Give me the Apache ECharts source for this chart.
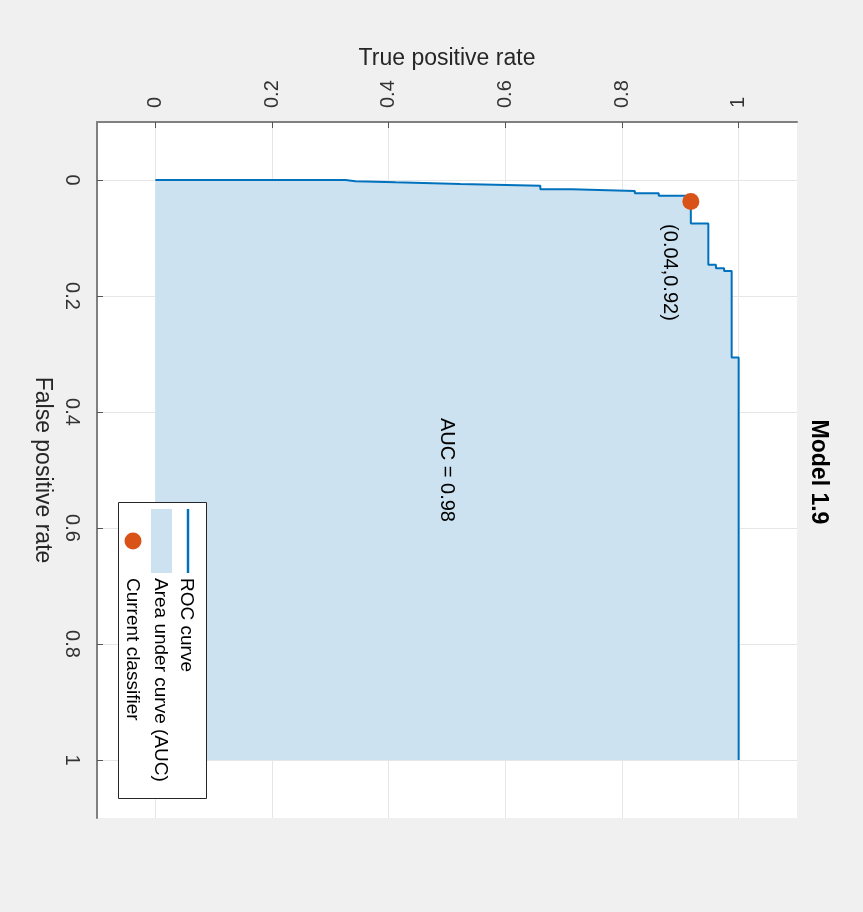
<!DOCTYPE html>
<html>
<head>
<meta charset="utf-8">
<script src="https://cdn.jsdelivr.net/npm/echarts@6/dist/echarts.min.js"></script>
<style>
  html, body { margin: 0; padding: 0; background: #f0f0f0; }
  #main { width: 863px; height: 912px; }
</style>
</head>
<body>
<div id="main"></div>
<script>
// ROC curve vertices (step drawn horizontally, then vertically)
var tprPoints = [0, 0.326, 0.343, 0.412, 0.523, 0.660, 0.714, 0.822, 0.863, 0.918, 0.948, 0.961, 0.975, 0.988, 1.0];
var fprPoints = [0, 0.002, 0.004, 0.007, 0.010, 0.016, 0.019, 0.023, 0.027, 0.075, 0.146, 0.152, 0.157, 0.306, 1.0];
// current classifier (FPR, TPR)
var currentFpr = 0.037;
var currentTpr = 0.918;
var aucValue = 0.98;
var tickValues = [0, 0.2, 0.4, 0.6, 0.8, 1];
var tickLabels = ['0', '0.2', '0.4', '0.6', '0.8', '1'];

var FONT = 'Liberation Sans, Arial, Helvetica, sans-serif';
var lineColor = '#0072BD';
var areaColor = '#cce2f0';
var dotColor = '#D95319';

var chart = echarts.init(document.getElementById('main'), null, { renderer: 'canvas' });

var rocData = [];
for (var i = 0; i < tprPoints.length; i++) {
  rocData.push([tprPoints[i], fprPoints[i]]);
}

function tickFmt(v) {
  var idx = tickValues.indexOf(Math.round(v * 10) / 10);
  return idx >= 0 ? tickLabels[idx] : '';
}

chart.setOption({
  backgroundColor: '#f0f0f0',
  animation: false,
  grid: {
    left: 97,
    top: 122,
    width: 700,
    height: 696,
    show: true,
    backgroundColor: '#fff',
    borderWidth: 0
  },
  xAxis: {
    type: 'value',
    position: 'top',
    min: -0.1,
    max: 1.1,
    name: 'True positive rate',
    nameLocation: 'middle',
    nameGap: 52,
    nameTextStyle: { fontSize: 23, color: '#262626', fontFamily: FONT },
    axisLine: { show: true, onZero: false, lineStyle: { color: '#808080', width: 2 } },
    axisTick: { show: true, inside: true, length: 6, customValues: tickValues, lineStyle: { color: '#555' } },
    axisLabel: {
      customValues: tickValues,
      rotate: -90,
      margin: 14,
      fontSize: 20,
      color: '#333',
      fontFamily: FONT,
      formatter: tickFmt
    },
    splitLine: { show: true, lineStyle: { color: '#e6e6e6', width: 1 } }
  },
  yAxis: {
    type: 'value',
    position: 'left',
    inverse: true,
    min: -0.1,
    max: 1.1,
    name: 'False positive rate',
    nameLocation: 'middle',
    nameRotate: -90,
    nameGap: 43,
    nameTextStyle: { fontSize: 23, color: '#262626', fontFamily: FONT },
    axisLine: { show: true, onZero: false, lineStyle: { color: '#808080', width: 2 } },
    axisTick: { show: true, inside: true, length: 6, customValues: tickValues, lineStyle: { color: '#555' } },
    axisLabel: {
      customValues: tickValues,
      rotate: -90,
      margin: 15,
      fontSize: 20,
      color: '#333',
      fontFamily: FONT,
      formatter: tickFmt
    },
    splitLine: { show: true, lineStyle: { color: '#e6e6e6', width: 1 } }
  },
  series: [{
    name: 'ROC curve',
    type: 'line',
    step: 'end',
    symbol: 'none',
    data: rocData,
    lineStyle: { color: lineColor, width: 2 },
    areaStyle: { color: areaColor, opacity: 1, origin: 1 },
    z: 2
  }, {
    name: 'Current classifier',
    type: 'scatter',
    symbol: 'circle',
    symbolSize: 17,
    data: [[currentTpr, currentFpr]],
    itemStyle: { color: dotColor, opacity: 1 },
    z: 5
  }]
});

// rotated texts and legend
var aucPx = chart.convertToPixel({ gridIndex: 0 }, [0.5, 0.5]);
var dotPx = chart.convertToPixel({ gridIndex: 0 }, [currentTpr, currentFpr]);

function rotText(x, y, text, size, align, bold) {
  return {
    type: 'text',
    x: x,
    y: y,
    rotation: -Math.PI / 2,
    z: 101,
    style: {
      text: text,
      font: (bold ? 'bold ' : '') + size + 'px ' + FONT,
      fill: '#000',
      align: align,
      verticalAlign: 'middle',
      textAlign: align,
      textVerticalAlign: 'middle'
    }
  };
}

chart.setOption({
  graphic: [
    rotText(818, 472, 'Model 1.9', 23, 'center', true),
    rotText(aucPx[0], aucPx[1], 'AUC = ' + aucValue.toFixed(2), 20, 'center', false),
    rotText(dotPx[0] - 21, dotPx[1] + 71, '(' + currentFpr.toFixed(2) + ',' + currentTpr.toFixed(2) + ')', 20, 'center', false),
    // legend box
    {
      type: 'rect',
      z: 100,
      shape: { x: 118.5, y: 502.5, width: 88, height: 296 },
      style: { fill: '#fff', stroke: '#262626', lineWidth: 1 }
    },
    {
      type: 'line',
      z: 101,
      shape: { x1: 188, y1: 509, x2: 188, y2: 573 },
      style: { stroke: lineColor, lineWidth: 2.5 }
    },
    {
      type: 'rect',
      z: 101,
      shape: { x: 151, y: 509, width: 21, height: 64 },
      style: { fill: areaColor }
    },
    {
      type: 'circle',
      z: 101,
      shape: { cx: 133, cy: 541, r: 8.5 },
      style: { fill: dotColor }
    },
    rotText(186, 578, 'ROC curve', 19, 'left', false),
    rotText(160, 578, 'Area under curve (AUC)', 19, 'left', false),
    rotText(132, 578, 'Current classifier', 19, 'left', false)
  ]
});
</script>
</body>
</html>
